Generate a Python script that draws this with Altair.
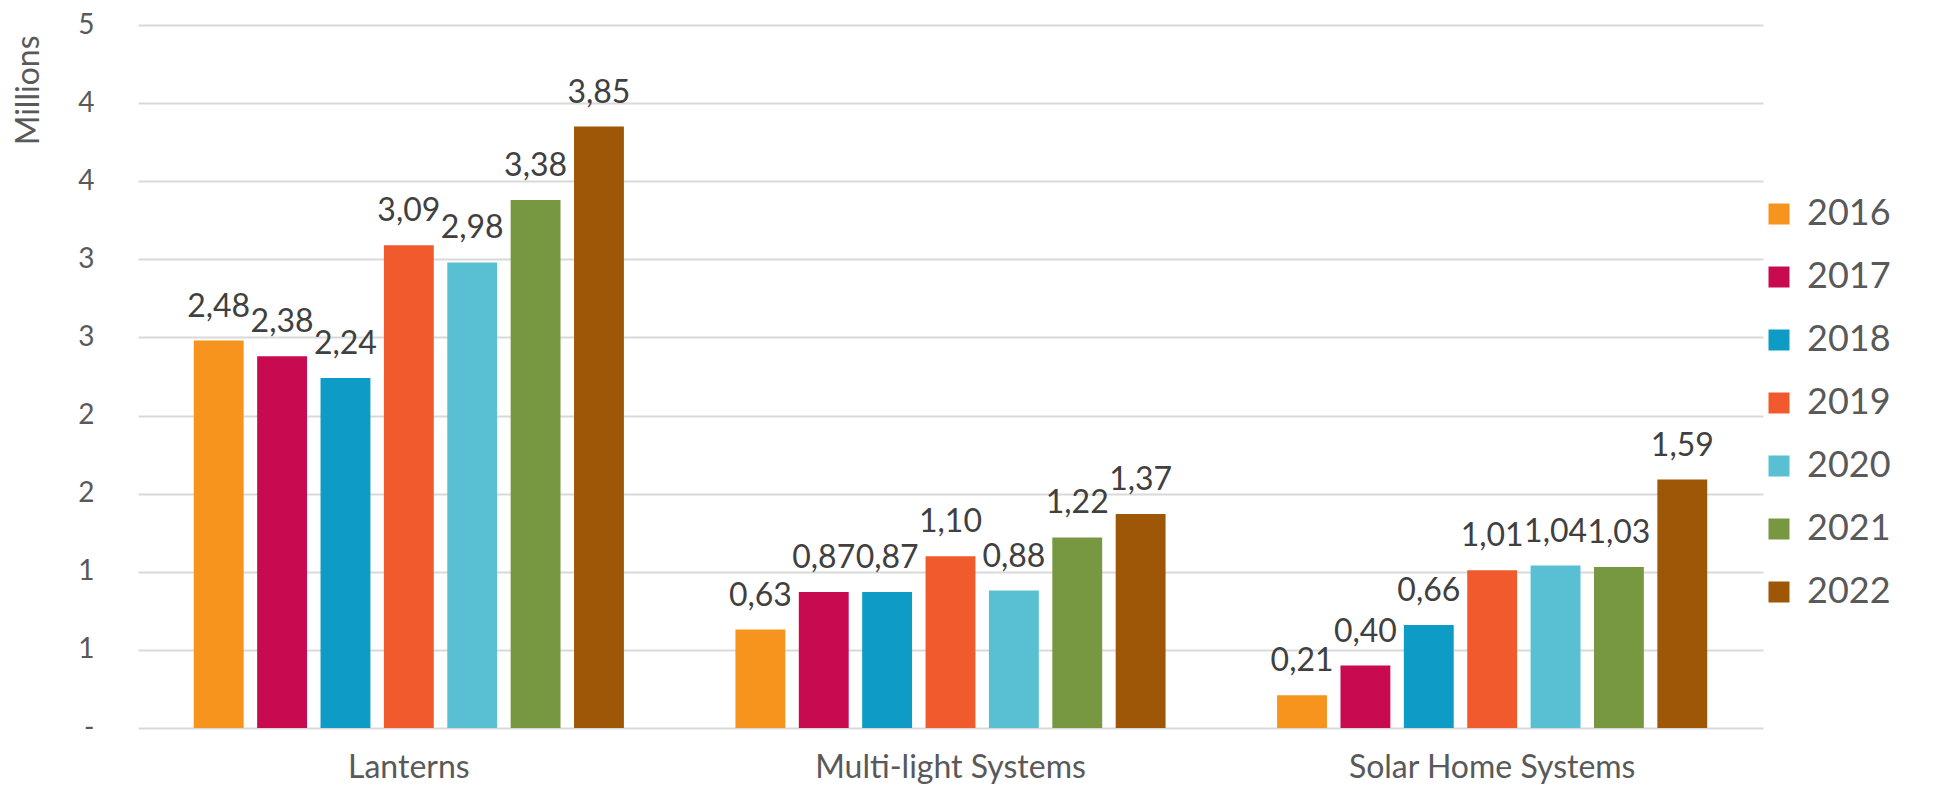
import altair as alt
import pandas as pd

categories = ["Lanterns", "Multi-light Systems", "Solar Home Systems"]
years = ["2016", "2017", "2018", "2019", "2020", "2021", "2022"]
lanterns = [2.48, 2.38, 2.24, 3.09, 2.98, 3.38, 3.85]
multi_light = [0.63, 0.87, 0.87, 1.10, 0.88, 1.22, 1.37]
solar_home = [0.21, 0.40, 0.66, 1.01, 1.04, 1.03, 1.59]
colors = ["#F7941E", "#C80A51", "#0E9BC5", "#F05A2C", "#59C0D3", "#779841", "#9E5706"]
y_ticks = [0, 0.5, 1, 1.5, 2, 2.5, 3, 3.5, 4, 4.5]

rows = []
for cat, vals in zip(categories, [lanterns, multi_light, solar_home]):
    for yr, v in zip(years, vals):
        rows.append({"category": cat, "year": yr, "value": v})
df = pd.DataFrame(rows)

FONT = "Lato"

x = alt.X("category:N", sort=categories, title=None,
          scale=alt.Scale(paddingInner=0, paddingOuter=0),
          axis=alt.Axis(domain=False, ticks=False, labelFontSize=32, labelColor="#595959",
                        labelFont=FONT, labelPadding=24, labelAngle=0, labelLimit=0,
                        grid=False))
xo = alt.XOffset("year:N", sort=years,
                 scale=alt.Scale(paddingInner=0.213, paddingOuter=0.88))
y = alt.Y("value:Q", title="Millions",
          scale=alt.Scale(domain=[0, 4.5], nice=False, zero=True),
          axis=alt.Axis(values=y_ticks, domain=False, ticks=False, tickSize=0,
                        labelFontSize=28, labelColor="#595959", labelFont=FONT,
                        labelPadding=44,
                        labelExpr="datum.value == 0 ? '-\u00a0\u00a0' : toString(floor(datum.value + 0.5))",
                        gridColor="#D9D9D9", gridWidth=2,
                        titleFont=FONT, titleFontSize=32, titleColor="#595959",
                        titleFontWeight="normal", titleAngle=-90, titleX=-110, titleY=10,
                        titleAlign="right", titleBaseline="middle"))
color = alt.Color("year:N", sort=years,
                  scale=alt.Scale(domain=years, range=colors),
                  legend=alt.Legend(title=None, orient="none", legendX=1623, legendY=171,
                                    symbolType="square", symbolSize=441, symbolStrokeWidth=0,
                                    labelFont=FONT, labelFontSize=36, labelColor="#595959",
                                    labelOffset=10, rowPadding=27, padding=0))

bars = alt.Chart(df).mark_bar().encode(x=x, xOffset=xo, y=y, color=color)

labels = alt.Chart(df).mark_text(font=FONT, fontSize=32, color="#404040",
                                 baseline="alphabetic", dy=-24).encode(
    x=alt.X("category:N", sort=categories),
    xOffset=alt.XOffset("year:N", sort=years),
    y=alt.Y("value:Q"),
    text=alt.Text("label:N"),
).transform_calculate(label="replace(format(datum.value, '.2f'), '.', ',')")

chart = (bars + labels).properties(
    width=1625, height=703,
    autosize=alt.AutoSizeParams(type="none"),
    padding={"left": 130, "top": 17, "right": 160, "bottom": 56},
).configure(font=FONT).configure_view(stroke=None, strokeWidth=0)

chart.save("out.html", embed_options={"renderer": "svg", "actions": False})
